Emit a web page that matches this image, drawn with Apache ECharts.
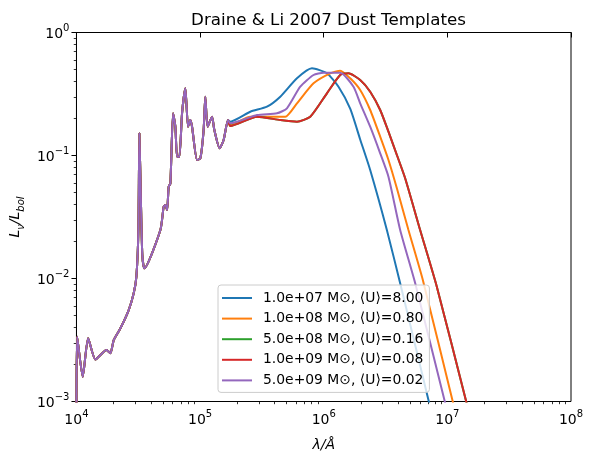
<!DOCTYPE html>
<html>
<head>
<meta charset="utf-8">
<script src="https://cdn.jsdelivr.net/npm/echarts@6/dist/echarts.min.js"></script>
<style>
html,body{margin:0;padding:0;background:#fff;}
#c{width:593px;height:463px;}
</style>
</head>
<body>
<div id="c"></div>
<script>
// Shared part of the templates (all five curves coincide here)
var commonX = [1.0e4, 1.013e4, 1.124e4, 1.243e4, 1.424e4, 1.748e4, 1.882e4, 2.002e4, 2.268e4, 2.646e4, 2.904e4, 3.053e4, 3.17e4, 3.228e4, 3.32e4, 3.41e4, 3.544e4, 4.773e4, 5.076e4, 5.238e4, 5.41e4, 5.57e4, 5.75e4, 6.045e4, 6.31e4, 6.51e4, 6.797e4, 7.146e4, 7.6e4, 7.99e4, 8.34e4, 8.61e4, 9.45e4, 1.005e5, 1.068e5, 1.102e5, 1.151e5, 1.249e5, 1.304e5, 1.439e5, 1.55e5, 1.682e5];
var commonY = [8.0e-4, 3.36e-3, 1.59e-3, 3.27e-3, 2.20e-3, 2.62e-3, 2.47e-3, 3.16e-3, 3.94e-3, 5.54e-3, 7.58e-3, 1.035e-2, 2.48e-2, 0.1515, 4.35e-2, 1.55e-2, 1.21e-2, 2.48e-2, 3.84e-2, 3.96e-2, 3.6e-2, 5.57e-2, 5.94e-2, 0.2203, 0.1714, 0.0978, 0.0978, 0.2203, 0.3518, 0.1714, 0.1943, 0.1714, 0.0919, 0.0949, 0.161, 0.3006, 0.1714, 0.2067, 0.161, 0.1144, 0.1337, 0.1943];

// Individual long-wavelength parts
var blueX = [1.755e5, 2.547e5, 3.475e5, 4.452e5, 6.074e5, 8.03e5, 1.061e6, 1.317e6, 1.637e6, 1.972e6, 2.376e6, 3.241e6, 4.152e6, 7.03e6, 7.53e6];
var blueY = [0.1883, 0.227, 0.2493, 0.3006, 0.4242, 0.5116, 0.4659, 0.3625, 0.240, 0.135, 0.0762, 0.0248, 9.14e-3, 1.03e-3, 7.8e-4];

var orangeX = [1.755e5, 2.547e5, 3.695e5, 4.886e5, 6.074e5, 8.27e5, 1.128e6, 1.359e6, 1.637e6, 1.972e6, 2.376e6, 2.862e6, 3.339e6, 3.905e6, 4.845e6, 6.333e6, 1.098e7, 1.177e7];
var orangeY = [0.177, 0.2067, 0.2067, 0.2067, 0.2657, 0.3864, 0.4659, 0.4892, 0.4242, 0.3407, 0.2344, 0.1422, 0.0919, 0.0541, 0.0248, 9.72e-3, 1.03e-3, 7.8e-4];

var greenX = [1.755e5, 2.886e5, 4.452e5, 6.074e5, 7.78e5, 1.061e6, 1.359e6, 1.586e6, 1.972e6, 2.376e6, 2.862e6, 3.339e6, 3.905e6, 4.556e6, 6.023e6, 8.217e6, 1.41e7, 1.514e7];
var greenY = [0.1737, 0.2067, 0.1943, 0.1883, 0.2067, 0.3203, 0.4512, 0.4659, 0.4111, 0.3302, 0.2344, 0.1561, 0.1009, 0.0653, 0.0248, 8.58e-3, 1.03e-3, 7.8e-4];

var redX = [1.755e5, 2.886e5, 4.452e5, 6.074e5, 7.78e5, 1.061e6, 1.359e6, 1.586e6, 1.972e6, 2.376e6, 2.862e6, 3.339e6, 3.905e6, 4.556e6, 6.023e6, 8.217e6, 1.41e7, 1.514e7];
var redY = [0.1737, 0.2067, 0.1943, 0.1883, 0.2067, 0.3203, 0.4512, 0.4659, 0.4111, 0.3302, 0.2344, 0.1561, 0.1009, 0.0653, 0.0248, 8.58e-3, 1.03e-3, 7.8e-4];

var purpleX = [1.755e5, 2.886e5, 4.186e5, 5.04e5, 6.458e5, 8.27e5, 9.96e5, 1.359e6, 1.741e6, 1.972e6, 2.376e6, 2.862e6, 3.339e6, 4.152e6, 5.488e6, 9.467e6, 1.014e7];
var purpleY = [0.1827, 0.2135, 0.2203, 0.2419, 0.3625, 0.4512, 0.471, 0.471, 0.3625, 0.2657, 0.1714, 0.1042, 0.0672, 0.0248, 9.19e-3, 1.03e-3, 7.8e-4];

var seriesNames = ['1.0e+07 M\u2299, \u27E8U\u27E9=8.00', '1.0e+08 M\u2299, \u27E8U\u27E9=0.80', '5.0e+08 M\u2299, \u27E8U\u27E9=0.16', '1.0e+09 M\u2299, \u27E8U\u27E9=0.08', '5.0e+09 M\u2299, \u27E8U\u27E9=0.02'];
var seriesColors = ['#1f77b4', '#ff7f0e', '#2ca02c', '#d62728', '#9467bd'];

var xMajorTicks = [1e4, 1e5, 1e6, 1e7, 1e8];
var yMajorTicks = [1e-3, 1e-2, 1e-1, 1e0];

function zip(xs, ys) { return xs.map(function (x, i) { return [x, ys[i]]; }); }
function minorLog(lo, hi) {
  var out = [];
  for (var d = lo; d < hi; d++) for (var k = 2; k <= 9; k++) out.push(d + Math.log10(k));
  return out;
}
function supLabel(v) {
  var e = Math.round(Math.log10(v));
  return '{a|10}{b|' + (e < 0 ? '\u2212' + (-e) : e) + '}';
}
var FONT = 'DejaVu Sans';
var tickRich = {
  a: { fontFamily: FONT, fontSize: 14, color: '#000', lineHeight: 18, verticalAlign: 'bottom' },
  b: { fontFamily: FONT, fontSize: 10, color: '#000', lineHeight: 18, verticalAlign: 'top' }
};

var tails = [[blueX, blueY], [orangeX, orangeY], [greenX, greenY], [redX, redY], [purpleX, purpleY]];
var series = tails.map(function (t, i) {
  return {
    name: seriesNames[i],
    type: 'line',
    xAxisIndex: 0,
    yAxisIndex: 0,
    data: zip(commonX.concat(t[0]), commonY.concat(t[1])),
    symbol: 'none',
    smooth: 0.2,
    clip: true,
    color: seriesColors[i],
    lineStyle: { width: 2, color: seriesColors[i] },
    emphasis: { disabled: true }
  };
});

var chart = echarts.init(document.getElementById('c'));
chart.setOption({
  animation: false,
  backgroundColor: '#fff',
  title: {
    text: 'Draine & Li 2007 Dust Templates',
    left: 323.5,
    textAlign: 'center',
    top: 7,
    textStyle: { fontFamily: FONT, fontSize: 16.7, fontWeight: 'normal', color: '#000' }
  },
  grid: { left: 76, right: 22, top: 32.5, bottom: 61.5, show: true, borderColor: '#000', borderWidth: 1, backgroundColor: 'transparent' },
  legend: {
    orient: 'vertical',
    left: 218,
    top: 285,
    padding: [6, 6, 5, 4],
    itemGap: 6.6,
    itemWidth: 30,
    itemHeight: 2,
    icon: 'rect',
    backgroundColor: 'rgba(255,255,255,0.8)',
    borderColor: '#cccccc',
    borderWidth: 1,
    borderRadius: 3,
    selectedMode: false,
    data: seriesNames,
    textStyle: { fontFamily: FONT, fontSize: 13.9, lineHeight: 14, color: '#000', padding: [0, 0, 0, 6] }
  },
  xAxis: [{
    type: 'log', logBase: 10, min: 1e4, max: 1e8,
    name: '\u03BB/\u00C5', nameLocation: 'middle', nameGap: 37,
    nameTextStyle: { fontFamily: FONT, fontSize: 14, fontStyle: 'italic', color: '#000' },
    axisLine: { lineStyle: { color: '#000', width: 1 } },
    axisTick: { inside: false, length: 5, lineStyle: { color: '#000', width: 1 } },
    axisLabel: { margin: 8, formatter: supLabel, rich: tickRich },
    splitLine: { show: false }
  }, {
    type: 'value', min: 4, max: 8, position: 'bottom',
    axisLine: { show: false },
    axisTick: { show: true, inside: false, length: 2.7, customValues: minorLog(4, 8), lineStyle: { color: '#000', width: 0.8 } },
    axisLabel: { show: false },
    splitLine: { show: false }
  }],
  yAxis: [{
    type: 'log', logBase: 10, min: 1e-3, max: 1,
    name: '{i|L}{s|\u03BD}{i|/L}{s|bol}', nameLocation: 'middle', nameGap: 44, nameRotate: 90,
    nameTextStyle: {
      rich: {
        i: { fontFamily: FONT, fontSize: 14, fontStyle: 'italic', color: '#000', lineHeight: 18, verticalAlign: 'top' },
        s: { fontFamily: FONT, fontSize: 10, fontStyle: 'italic', color: '#000', lineHeight: 18, verticalAlign: 'bottom' }
      }
    },
    axisLine: { lineStyle: { color: '#000', width: 1 } },
    axisTick: { inside: false, length: 5, lineStyle: { color: '#000', width: 1 } },
    axisLabel: { margin: 7, formatter: supLabel, rich: tickRich },
    splitLine: { show: false }
  }, {
    type: 'value', min: -3, max: 0, position: 'left',
    axisLine: { show: false },
    axisTick: { show: true, inside: false, length: 2.7, customValues: minorLog(-3, 0), lineStyle: { color: '#000', width: 0.8 } },
    axisLabel: { show: false },
    splitLine: { show: false }
  }],
  series: series
});
</script>
</body>
</html>
